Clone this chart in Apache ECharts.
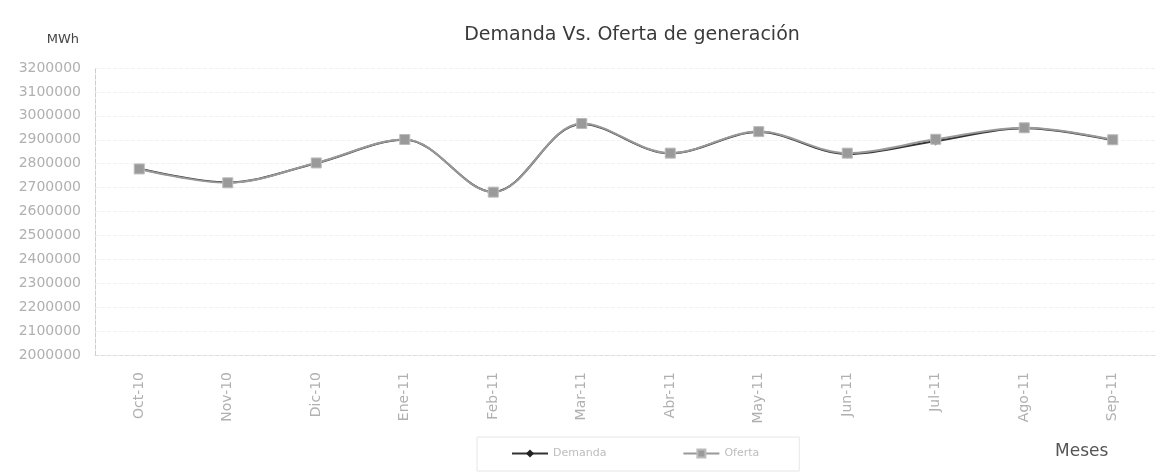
<!DOCTYPE html>
<html>
<head>
<meta charset="utf-8">
<script src="https://cdn.jsdelivr.net/npm/echarts@6/dist/echarts.min.js"></script>
<style>
  html, body { margin: 0; padding: 0; background: #fff; }
  #chart { width: 1174px; height: 472px; }
</style>
</head>
<body>
<div id="chart"></div>
<script>
const months = ['Oct-10', 'Nov-10', 'Dic-10', 'Ene-11', 'Feb-11', 'Mar-11', 'Abr-11', 'May-11', 'Jun-11', 'Jul-11', 'Ago-11', 'Sep-11'];
const demanda = [2780000, 2722000, 2802000, 2900000, 2682000, 2966000, 2843000, 2932000, 2840000, 2895000, 2948000, 2898000];
const oferta = [2778000, 2720000, 2803000, 2901000, 2681000, 2968000, 2844000, 2934000, 2844000, 2902000, 2950000, 2900000];

const chart = echarts.init(document.getElementById('chart'));
const labelColor = '#b0b0b0';
chart.setOption({
  animation: false,
  textStyle: { fontFamily: 'DejaVu Sans, sans-serif' },
  title: {
    text: 'Demanda Vs. Oferta de generación',
    left: 627, top: 21, textAlign: 'center',
    textStyle: { fontSize: 19, fontWeight: 'normal', color: '#3a3a3a', fontFamily: 'DejaVu Sans' }
  },
  legend: {
    left: 477, top: 437,
    itemGap: 76, itemWidth: 36, itemHeight: 10,
    padding: [11, 40, 12, 34],
    borderColor: '#e6e6e6', borderWidth: 1,
    textStyle: { color: '#bdbdbd', fontSize: 11 },
    data: ['Demanda', 'Oferta']
  },
  grid: { left: 95, right: 17, top: 68, bottom: 117, outerBoundsMode: 'none' },
  xAxis: {
    type: 'category',
    data: months,
    name: 'Meses',
    nameLocation: 'end',
    nameGap: 0,
    nameTextStyle: { color: '#555', fontSize: 17, padding: [88, 0, 0, -102], verticalAlign: 'top' },
    axisLine: { show: true, lineStyle: { color: '#ddd', type: 'dashed' } },
    axisTick: { show: false },
    axisLabel: { rotate: 90, color: labelColor, fontSize: 14, margin: 17 },
    splitLine: { show: false }
  },
  yAxis: {
    type: 'value',
    min: 2000000, max: 3200000, interval: 100000,
    name: 'MWh',
    nameLocation: 'end',
    nameGap: 22,
    nameTextStyle: { color: '#444', fontSize: 13, align: 'right', padding: [0, 16, 0, 0] },
    axisLine: { show: true, lineStyle: { color: '#ccc', type: 'dashed' } },
    axisTick: { show: false },
    axisLabel: { color: labelColor, fontSize: 14, margin: 14, formatter: v => String(v) },
    splitLine: { show: true, lineStyle: { color: '#f2f2f2', type: 'dashed' } }
  },
  series: [
    {
      name: 'Demanda', type: 'line', data: demanda, smooth: 0.35,
      symbol: 'diamond', symbolSize: 9,
      lineStyle: { color: '#333', width: 2 },
      itemStyle: { color: '#222' }
    },
    {
      name: 'Oferta', type: 'line', data: oferta, smooth: 0.35,
      symbol: 'rect', symbolSize: 10,
      lineStyle: { color: '#999', width: 2 },
      itemStyle: { color: '#9a9a9a', borderColor: '#bbb', borderWidth: 1 }
    }
  ]
});
</script>
</body>
</html>
